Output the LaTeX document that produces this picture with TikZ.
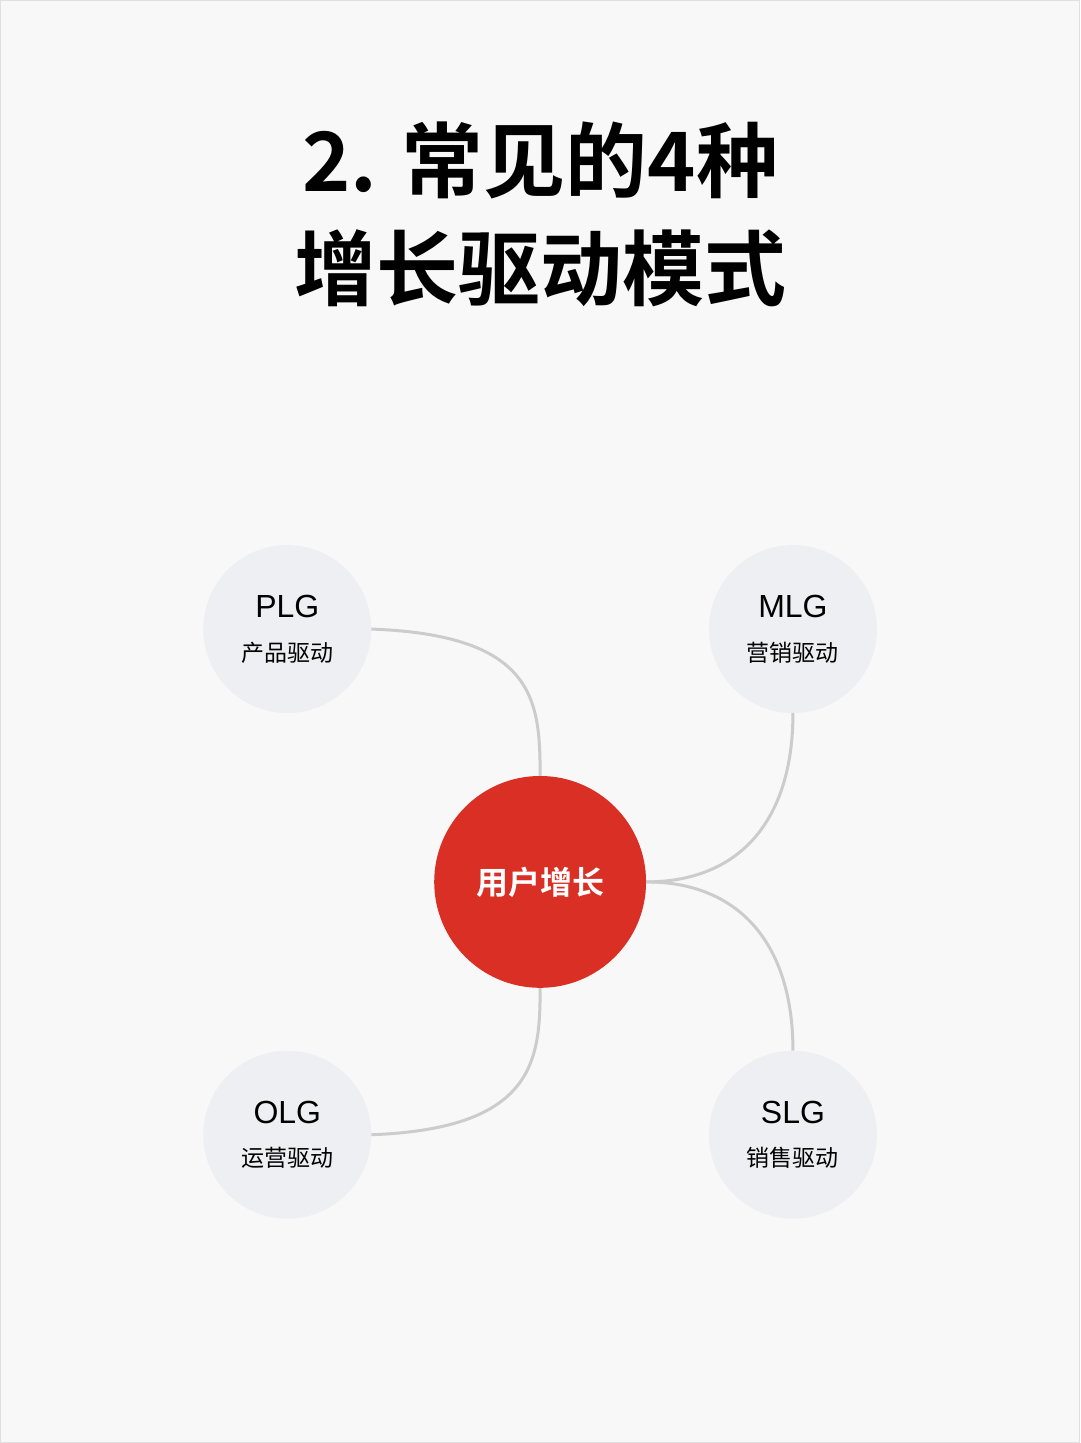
\documentclass[tikz,border=0pt]{standalone}
\usepackage{fontspec}
\setmainfont{Liberation Sans}
\newfontfamily\cjk{Noto Sans CJK SC}
\newfontfamily\cjkb{Noto Sans CJK SC Bold}
\definecolor{bg}{HTML}{F8F8F8}
\definecolor{nodebg}{HTML}{EEEFF2}
\definecolor{red}{HTML}{D92F24}
\definecolor{edge}{HTML}{CCCCCC}
\tikzset{
 x=1pt,y=-1pt,
 mode/.style={circle,fill=nodebg,minimum size=168pt,inner sep=0pt,align=center},
 conn/.style={draw=edge,line width=3pt},
}
\newcommand{\modelabel}[2]{{\fontsize{32}{38}\selectfont #1}\\[23pt]{\cjk\fontsize{23}{28}\selectfont #2}}
\begin{document}
\begin{tikzpicture}
\fill[bg,draw=edge!60,line width=1pt] (0,0) rectangle (1080,1443);
\useasboundingbox (0,0) rectangle (1080,1443);
\node (t1) at (540,160) {\cjkb\fontsize{82}{90}\selectfont 2. 常见的4种};
\node (t2) at (540,268) {\cjkb\fontsize{82}{90}\selectfont 增长驱动模式};
\node[mode] (plg) at (287,629) {\modelabel{PLG}{产品驱动}};
\node[mode] (mlg) at (793,629) {\modelabel{MLG}{营销驱动}};
\node[mode] (olg) at (287,1135) {\modelabel{OLG}{运营驱动}};
\node[mode] (slg) at (793,1135) {\modelabel{SLG}{销售驱动}};
\node[circle,fill=red,minimum size=212pt,inner sep=0pt,text=white] (c) at (540,882) {\cjkb\fontsize{32}{38}\selectfont 用户增长};
\draw[conn] (plg.east) .. controls (535,635) and (540,700) .. (c.north);
\draw[conn] (mlg.south) .. controls (793,820) and (740,882) .. (c.east);
\draw[conn] (slg.north) .. controls (793,945) and (740,882) .. (c.east);
\draw[conn] (olg.east) .. controls (535,1129) and (540,1060) .. (c.south);
\end{tikzpicture}
\end{document}
